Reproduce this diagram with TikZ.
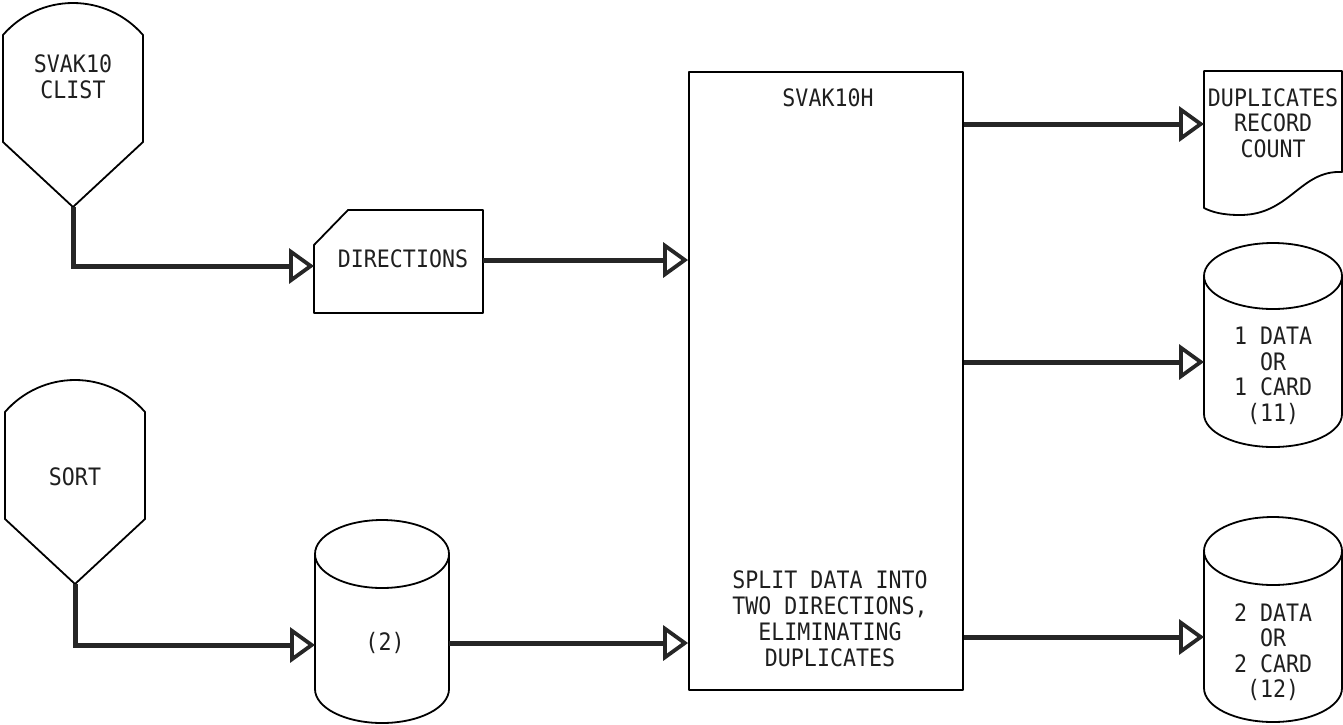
\documentclass[tikz,border=0pt]{standalone}
\usepackage{fontspec}
\newfontfamily\plotfont[FakeStretch=0.9]{DejaVu Sans Mono}
\usetikzlibrary{arrows.meta}

\tikzset{
  outline/.style={line width=1.8pt, line join=round},
  lbl/.style={font=\plotfont\fontsize{24}{25.5}\selectfont, align=center, inner sep=0pt, text=black!88},
  flow/.style={line width=5pt, draw=black!85,
    -{Triangle[open, length=25pt, width=35pt, line width=3.8pt]}},
  % storage symbol with a rounded top and a pointed bottom; origin = top of the arc
  hopper/.pic={
    \draw[outline] (-70,139) -- (-70,32)
      .. controls (-52.4,11.7) and (-26.9,0) .. (0,0)
      .. controls (26.9,0) and (52.4,11.7) .. (70,32)
      -- (70,139) -- (0,204) -- cycle;
    \coordinate (-tip) at (0,204);
  },
  % disk drum: x radius, y radius, body height; origin = centre of the top cap
  pics/drum/.style n args={3}{code={
    \draw[outline] (-#1,0) -- (-#1,#3)
      arc[start angle=180, end angle=0, x radius=#1, y radius=#2] -- (#1,0);
    \draw[outline] (0,0) ellipse[x radius=#1, y radius=#2];
  }},
}

\begin{document}
\begin{tikzpicture}[x=1pt,y=-1pt]
\useasboundingbox (0,0) rectangle (1343,724);

% inputs on the left
\pic (clist) at (73,3) {hopper};
\node[lbl] (clist-label) at (73,77) {SVAK10\\CLIST};

\pic (sort) at (75,380) {hopper};
\node[lbl] (sort-label) at (75,477) {SORT};

% control card
\draw[outline] (314,245) -- (348,210) -- (483,210) -- (483,313) -- (314,313) -- cycle;
\node[lbl] (dir-label) at (403,259) {DIRECTIONS};
\coordinate (dir-in) at (314,266);
\coordinate (dir-out) at (483,260);

% sorted work file
\pic at (382,554) {drum={67}{34}{135}};
\node[lbl] (work-label) at (385,643) {(2)};
\coordinate (work-in) at (315,645);
\coordinate (work-out) at (449,643);

% the program
\node[draw, outline, minimum width=274pt, minimum height=618pt, inner sep=0pt] (proc) at (826,381) {};
\node[lbl] (proc-title) at (828,98) {SVAK10H};
\node[lbl, font=\plotfont\fontsize{24}{26}\selectfont] (proc-text) at (830,619)
  {SPLIT DATA INTO\\TWO DIRECTIONS,\\ELIMINATING\\DUPLICATES};

% outputs on the right
\draw[outline] (1204,71) -- (1342,71) -- (1342,172)
  .. controls (1300,170) and (1290,215) .. (1240,215)
  .. controls (1222,215) and (1212,212) .. (1204,208) -- cycle;
\node[lbl] (dup-label) at (1273,123) {DUPLICATES\\RECORD\\COUNT};
\coordinate (dup-in) at (1204,124);

\pic at (1273,276) {drum={69}{33}{138}};
\node[lbl] (one-label) at (1273,376) {1 DATA\\OR\\1 CARD\\(11)};
\coordinate (one-in) at (1204,362);

\pic at (1273,551) {drum={69}{34}{137}};
\node[lbl] (two-label) at (1273,652) {2 DATA\\OR\\2 CARD\\(12)};
\coordinate (two-in) at (1204,637);

% data flow
\draw[flow] (clist-tip) |- (dir-in);
\draw[flow] (sort-tip) |- (work-in);
\draw[flow] (dir-out) -- (dir-out -| proc.west);
\draw[flow] (work-out) -- (work-out -| proc.west);
\draw[flow] (proc.east |- dup-in) -- (dup-in);
\draw[flow] (proc.east |- one-in) -- (one-in);
\draw[flow] (proc.east |- two-in) -- (two-in);
\end{tikzpicture}
\end{document}
